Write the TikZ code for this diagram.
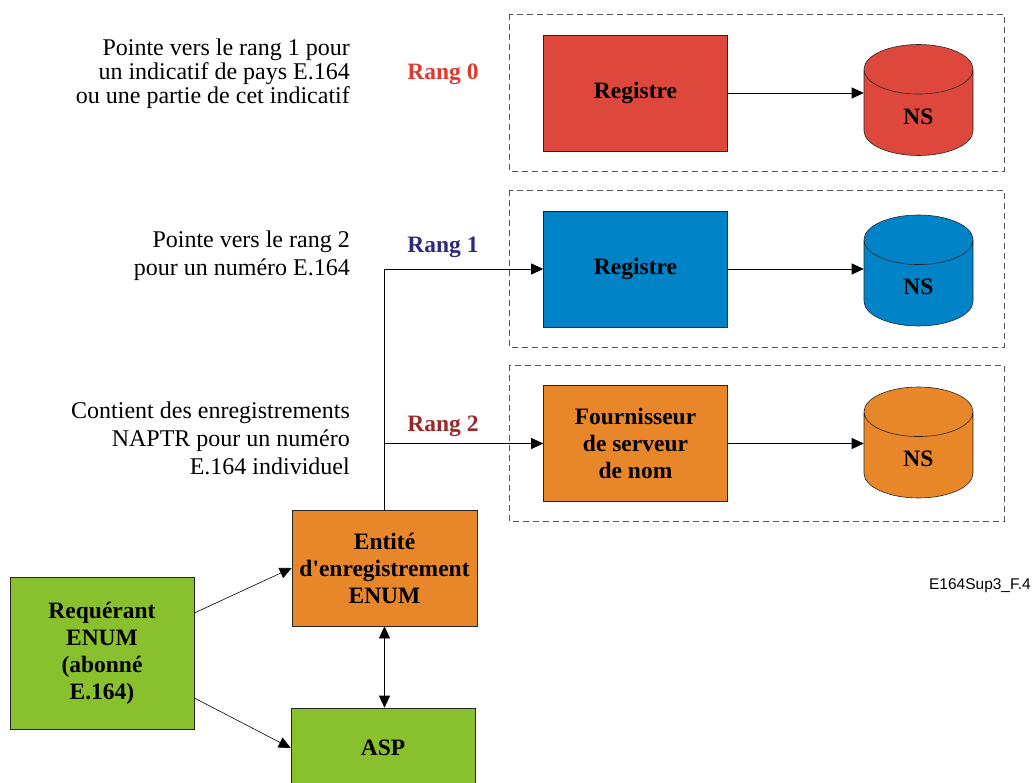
\documentclass[tikz,border=0pt]{standalone}
\usepackage{fontspec}
\setmainfont{Liberation Serif}
\setsansfont{Liberation Sans}
\usetikzlibrary{arrows.meta, shapes.geometric}
\definecolor{rgred}{RGB}{222, 72, 60}
\definecolor{rgblue}{RGB}{0, 132, 199}
\definecolor{rgorange}{RGB}{232, 135, 42}
\definecolor{rggreen}{RGB}{137, 193, 46}
\definecolor{rgzero}{RGB}{226, 55, 45}
\definecolor{rgone}{RGB}{46, 42, 126}
\definecolor{rgtwo}{RGB}{155, 40, 40}
\definecolor{rggray}{RGB}{85, 85, 85}
\tikzset{headtip/.tip={Triangle[length=12pt, width=11pt]}}

\begin{document}
\begin{tikzpicture}[x=1pt, y=-1pt,
  box/.style={draw=black!85, semithick, minimum width=184pt, minimum height=116pt,
    inner sep=2pt, align=center, font=\fontsize{23.5}{27}\selectfont\bfseries},
  db/.style={cylinder, shape border rotate=90, draw=black!85, semithick,
    minimum width=109pt, minimum height=111pt, shape aspect=1.35,
    font=\fontsize{23.5}{27}\selectfont\bfseries},
  zone/.style={draw=rggray, thick, dash pattern=on 6pt off 4pt},
  note/.style={align=right, anchor=east, inner sep=0pt},
  rang/.style={font=\fontsize{23.5}{27}\selectfont\bfseries},
  link/.style={-headtip, semithick}]
  \useasboundingbox (0,0) rectangle (1034,783);

  % Rang 0: registre et serveur de nom
  \draw[zone] (509,14) rectangle (1004,171);
  \node[box, fill=rgred] (reg0) at (635.5,93) {Registre};
  \node[db, fill=rgred, anchor=shape center] (ns0) at (918.5,100) {NS};
  \draw[link] (reg0.east) -- (reg0.east -| ns0.west);
  \node[rang, rgzero] (rang0) at (443,74) {Rang 0};
  \node[note, font=\fontsize{24}{24}\selectfont] (txt0) at (350,74)
    {Pointe vers le rang 1 pour\\un indicatif de pays E.164\\ou une partie de cet indicatif};

  % Rang 1
  \draw[zone] (509,190) rectangle (1004,347);
  \node[box, fill=rgblue] (reg1) at (635.5,269) {Registre};
  \node[db, fill=rgblue, anchor=shape center] (ns1) at (918.5,270.5) {NS};
  \draw[link] (reg1.east) -- (reg1.east -| ns1.west);
  \node[rang, rgone] (rang1) at (443,247) {Rang 1};
  \node[note, font=\fontsize{24}{28}\selectfont] (txt1) at (350,256)
    {Pointe vers le rang 2\\pour un numéro E.164};

  % Rang 2
  \draw[zone] (509,365) rectangle (1004,521);
  \node[box, fill=rgorange] (reg2) at (635.5,443.5)
    {Fournisseur\\de serveur\\de nom};
  \node[db, fill=rgorange, anchor=shape center] (ns2) at (918.5,442.5) {NS};
  \draw[link] (reg2.east) -- (reg2.east -| ns2.west);
  \node[rang, rgtwo] (rang2) at (443,426) {Rang 2};
  \node[note, font=\fontsize{24}{28}\selectfont] (txt2) at (350,438)
    {Contient des enregistrements\\NAPTR pour un numéro\\E.164 individuel};

  % Entites en bas
  \node[box, fill=rgorange, minimum width=185pt] (ent) at (384.5,568)
    {Entité\\d\textquotesingle enregistrement\\ENUM};
  \node[box, fill=rggreen, minimum height=152pt] (req) at (102,653)
    {Requérant\\ENUM\\(abonné\\E.164)};
  \node[box, fill=rggreen, minimum height=80pt] (asp) at (383,748) {ASP};

  % Liaisons
  \draw[link] (ent.north) |- (reg1.west);
  \draw[link] (ent.north |- reg2.west) -- (reg2.west);
  \draw[link] ([yshift=40pt]req.east) -- (ent.west);
  \draw[link] ([yshift=-45pt]req.east) -- (asp.west);
  \draw[semithick, headtip-headtip] (ent.south) -- (asp.north -| ent.south);

  \node[anchor=east, inner sep=0pt, font=\sffamily\fontsize{15.5}{18}\selectfont]
    (fig) at (1031,586) {E164Sup3\_F.4};
\end{tikzpicture}
\end{document}
